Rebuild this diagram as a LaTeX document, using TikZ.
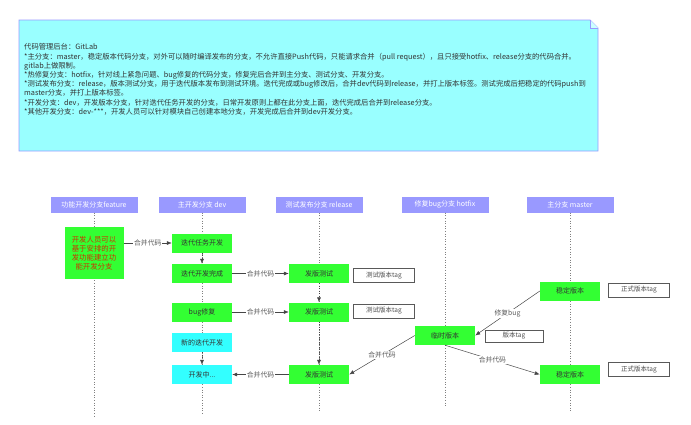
\documentclass[tikz,border=0pt]{standalone}
\usepackage{fontspec}
\setmainfont{Noto Sans CJK SC}
\usetikzlibrary{arrows.meta}

\definecolor{notefill}{RGB}{153,255,255}
\definecolor{noteline}{RGB}{153,153,255}
\definecolor{lanefill}{RGB}{153,153,255}
\definecolor{taskgreen}{RGB}{51,255,51}
\definecolor{taskcyan}{RGB}{51,255,255}
\definecolor{featred}{RGB}{204,51,0}
\definecolor{linegray}{RGB}{70,70,70}

\begin{document}
\begin{tikzpicture}[
    x=1pt, y=-1pt,
    lane/.style={fill=lanefill, text=white, minimum width=87pt, minimum height=16pt, inner sep=0pt, font=\fontsize{7}{8}\selectfont},
    task/.style={fill=taskgreen, text=black!80, minimum width=60pt, minimum height=19pt, inner sep=0pt, font=\fontsize{7}{8}\selectfont},
    newtask/.style={task, fill=taskcyan},
    tagbox/.style={draw=black!65, line width=1pt, fill=white, text=black!70, minimum width=61pt, minimum height=14pt, inner sep=0pt, font=\fontsize{6.5}{7}\selectfont},
    life/.style={draw=black!50, dotted, line width=0.6pt},
    arrow/.style={-{Latex[length=5pt,width=4pt]}, draw=linegray, line width=0.5pt},
    flowdown/.style={arrow, dotted},
    merge/.style={fill=white, text=black!65, inner sep=1pt, font=\fontsize{6.8}{7}\selectfont}
]
\useasboundingbox (0,0) rectangle (691,424);

\draw[draw=noteline, fill=notefill, line width=0.8pt] (19,20) -- (590,20) -- (598,28) -- (598,151) -- (19,151) -- cycle;
\draw[draw=noteline, fill=notefill!50!white, line width=0.6pt] (590,20) -- (590,28) -- (598,28);
\node[anchor=north west, align=left, inner sep=0pt, text=black!80, font=\fontsize{7.3}{9.2}\selectfont] (note) at (24,43.5) {%
代码管理后台：GitLab\\
*主分支：master，稳定版本代码分支，对外可以随时编译发布的分支，不允许直接Push代码，只能请求合并（pull request），且只接受hotfix、release分支的代码合并。\\
gitlab上做限制。\\
*热修复分支：hotfix，针对线上紧急问题、bug修复的代码分支，修复完后合并到主分支、测试分支、开发分支。\\
*测试发布分支：release，版本测试分支，用于迭代版本发布到测试环境。迭代完成或bug修改后，合并dev代码到release，并打上版本标签。测试完成后把稳定的代码push到\\
master分支，并打上版本标签。\\
*开发分支：dev，开发版本分支，针对迭代任务开发的分支，日常开发原则上都在此分支上面，迭代完成后合并到release分支。\\
*其他开发分支：dev-***，开发人员可以针对模块自己创建本地分支，开发完成后合并到dev开发分支。};

\node[lane] (hfeat) at (94,204.5) {功能开发分支feature};
\node[lane] (hdev) at (202,204.5) {主开发分支 dev};
\node[lane] (hrel) at (319,204.5) {测试发布分支 release};
\node[lane] (hfix) at (445,204.5) {修复bug分支 hotfix};
\node[lane] (hmas) at (570,204.5) {主分支 master};

\coordinate (efeat) at (94,417);
\coordinate (edev) at (202,413);
\coordinate (erel) at (319,411);
\coordinate (efix) at (445,406);
\coordinate (emas) at (570,412);
\draw[life] (hfeat) -- (efeat);
\draw[life] (hdev) -- (edev);
\draw[life] (hrel) -- (erel);
\draw[life] (hfix) -- (efix);
\draw[life] (hmas) -- (emas);

\node[task, minimum width=59pt, minimum height=52pt, align=center, text=featred, font=\fontsize{7.4}{9}\selectfont] (feat) at (94,253) {开发人员可以\\基于安排的开\\发功能建立功\\能开发分支};
\node[task] (plan) at (202,243) {迭代任务开发};
\node[task] (done) at (202,273.5) {迭代开发完成};
\node[task] (bug) at (202,312) {bug修复};
\node[newtask] (next) at (202,342.5) {新的迭代开发};
\node[newtask] (doing) at (202,374.5) {开发中...};

\node[task] (rel1) at (319,273.5) {发版测试};
\node[task] (rel2) at (319,312) {发版测试};
\node[task] (rel3) at (319,374.5) {发版测试};
\node[tagbox] (tag1) at (384,275.5) {测试版本tag};
\node[tagbox] (tag2) at (384,311) {测试版本tag};

\node[task] (tmp) at (445,335.5) {临时版本};
\node[tagbox, minimum width=58pt, minimum height=12pt] (tag3) at (514,336) {版本tag};

\node[task] (stab1) at (570,291) {稳定版本};
\node[task] (stab2) at (570,374.5) {稳定版本};
\node[tagbox] (tag4) at (639,290) {正式版本tag};
\node[tagbox] (tag5) at (639,369.5) {正式版本tag};

\draw[arrow] (feat.east |- plan.west) -- node[merge] {合并代码} (plan.west);
\draw[flowdown] (plan) -- (done);
\draw[arrow] (done) -- node[merge] {合并代码} (rel1);
\draw[arrow] (bug) -- node[merge] {合并代码} (rel2);
\draw[flowdown] (next) -- (doing);
\draw[flowdown] (rel1) -- (rel2);
\draw[flowdown] (rel2) -- (rel3);
\draw[arrow] (rel3) -- node[merge] {合并代码} (doing);
\draw[arrow] (stab1.west) -- node[merge] {修复bug} (tmp.east);
\draw[arrow] (tmp.west) -- node[merge] {合并代码} (rel3.east);
\draw[arrow] (tmp.south) -- node[merge] {合并代码} (stab2.west);
\end{tikzpicture}
\end{document}
